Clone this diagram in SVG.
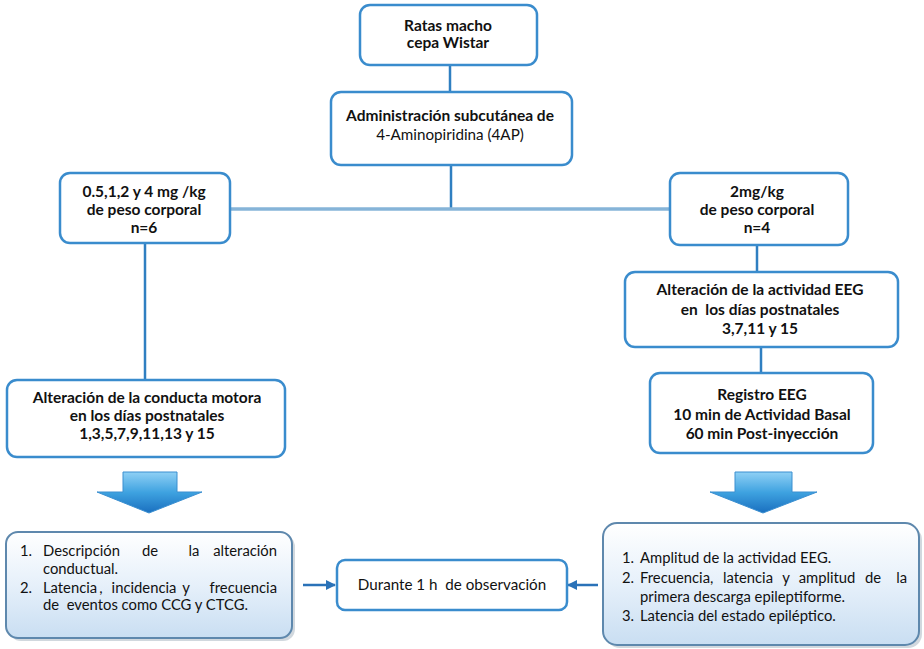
<svg xmlns="http://www.w3.org/2000/svg" width="924" height="649" viewBox="0 0 924 649">
<defs>
<linearGradient id="fillBottom" x1="0" y1="0" x2="0" y2="1">
<stop offset="0" stop-color="#ffffff"/>
<stop offset="0.5" stop-color="#e6f0fa"/>
<stop offset="1" stop-color="#c9def2"/>
</linearGradient>
<linearGradient id="arrowGrad" x1="0" y1="0" x2="0" y2="1">
<stop offset="0" stop-color="#8fd0f5"/>
<stop offset="0.5" stop-color="#3ea2e0"/>
<stop offset="1" stop-color="#1a6fbf"/>
</linearGradient>
<marker id="ah" viewBox="0 0 10 10" refX="9" refY="5" markerWidth="4" markerHeight="4" orient="auto">
<path d="M0,0 L10,5 L0,10 z" fill="#2a72b8"/>
</marker>
</defs>
<style>
.box{fill:#ffffff;stroke:#3a8ccd;stroke-width:2.5}
.bbox{fill:url(#fillBottom);stroke:#5e88ad;stroke-width:2}
.shadow{fill:#9aa8b5;opacity:0.45}
.b{font-family:Lato,"Liberation Sans",sans-serif;font-weight:bold;font-size:15.5px;fill:#111111;text-anchor:middle}
.r{font-family:Lato,"Liberation Sans",sans-serif;font-size:15.2px;fill:#111111;text-anchor:middle}
.t{font-family:Lato,"Liberation Sans",sans-serif;font-size:14.8px;fill:#111111}
.c{text-anchor:middle}
.e{text-anchor:end}
.line{stroke:#2f7fc1;stroke-width:2.5;fill:none}
.hline{stroke:#86b4d8;stroke-width:3.5;fill:none}
.arr{stroke:#2a72b8;stroke-width:2.5;fill:none;marker-end:url(#ah)}
.block{fill:url(#arrowGrad);stroke:#3b8fd0;stroke-width:1}
</style>
<rect width="924" height="649" fill="#ffffff"/>
<g id="connectors">
<line class="line" x1="450" y1="65" x2="450" y2="92"/>
<line class="line" x1="451" y1="165" x2="451" y2="209"/>
<line class="hline" x1="230" y1="209" x2="670" y2="209"/>
<line class="line" x1="145" y1="243" x2="145" y2="380"/>
<line class="line" x1="757" y1="245" x2="757" y2="272"/>
<line class="line" x1="761" y1="347" x2="761" y2="373"/>
<line class="arr" x1="303" y1="585" x2="335" y2="585"/>
<line class="arr" x1="598" y1="585" x2="568" y2="585"/>
<path class="block" d="M123,472 L177,472 L177,492 L202,492 L149,513 L97,492 L123,492 Z"/>
<path class="block" d="M735,472 L792,472 L792,492 L817,492 L763,513 L710,492 L735,492 Z"/>
</g>
<g id="n1">
<rect class="box" x="360" y="5" width="177" height="60" rx="10"/>
<text class="b" x="448" y="31">Ratas macho</text>
<text class="b" x="448" y="48">cepa Wistar</text>
</g>
<g id="n2">
<rect class="box" x="331" y="92" width="241" height="73" rx="10"/>
<text class="b" x="450" y="121">Administración subcutánea de</text>
<text class="r" x="450" y="140">4-Aminopiridina (4AP)</text>
</g>
<g id="n3">
<rect class="box" x="60" y="173" width="170" height="70" rx="10"/>
<text class="b" x="144" y="197">0.5,1,2 y 4 mg /kg</text>
<text class="b" x="144" y="215">de peso corporal</text>
<text class="b" x="144" y="233">n=6</text>
</g>
<g id="n4">
<rect class="box" x="670" y="173" width="178" height="72" rx="10"/>
<text class="b" x="757" y="197">2mg/kg</text>
<text class="b" x="757" y="215">de peso corporal</text>
<text class="b" x="757" y="233">n=4</text>
</g>
<g id="n5">
<rect class="box" x="7" y="380" width="278" height="77" rx="10"/>
<text class="b" x="147" y="403">Alteración de la conducta motora</text>
<text class="b" x="147" y="421">en los días postnatales</text>
<text class="b" x="147" y="439">1,3,5,7,9,11,13 y 15</text>
</g>
<g id="n6">
<rect class="box" x="625" y="272" width="273" height="75" rx="10"/>
<text class="b" x="760" y="295">Alteración de la actividad EEG</text>
<text class="b" x="760" y="315" xml:space="preserve">en  los días postnatales</text>
<text class="b" x="760" y="334">3,7,11 y 15</text>
</g>
<g id="n7">
<rect class="box" x="650" y="373" width="223" height="80" rx="10"/>
<text class="b" x="762" y="400">Registro EEG</text>
<text class="b" x="762" y="420">10 min de Actividad Basal</text>
<text class="b" x="762" y="439">60 min Post-inyección</text>
</g>
<g id="n8">
<rect class="shadow" x="9" y="535" width="286" height="106" rx="12"/>
<rect class="bbox" x="6" y="532" width="286" height="106" rx="12"/>
<text class="t" x="20" y="556">1.</text>
<text class="t" x="43" y="556">Descripción</text>
<text class="t c" x="150" y="556">de</text>
<text class="t c" x="194" y="556">la</text>
<text class="t e" x="277" y="556">alteración</text>
<text class="t" x="43" y="574">conductual.</text>
<text class="t" x="20" y="593">2.</text>
<text class="t" x="43" y="593">Latencia</text>
<text class="t c" x="101" y="593">,</text>
<text class="t c" x="144" y="593">incidencia</text>
<text class="t c" x="186" y="593">y</text>
<text class="t e" x="277" y="593">frecuencia</text>
<text class="t" x="43" y="610" xml:space="preserve">de  eventos como CCG y CTCG.</text>
</g>
<g id="n9">
<rect class="box" x="337" y="560" width="230" height="50" rx="8"/>
<text class="r" x="452" y="590" xml:space="preserve">Durante 1 h  de observación</text>
</g>
<g id="n10">
<rect class="shadow" x="606" y="526" width="316" height="122" rx="14"/>
<rect class="bbox" x="603" y="523" width="316" height="122" rx="14"/>
<text class="t" x="622" y="563">1.</text>
<text class="t" x="640" y="563">Amplitud de la actividad EEG.</text>
<text class="t" x="622" y="583">2.</text>
<text class="t" x="640" y="583">Frecuencia,</text>
<text class="t c" x="748" y="583">latencia</text>
<text class="t c" x="786" y="583">y</text>
<text class="t c" x="827" y="583">amplitud</text>
<text class="t c" x="873" y="583">de</text>
<text class="t e" x="907" y="583">la</text>
<text class="t" x="640" y="602">primera descarga epileptiforme.</text>
<text class="t" x="622" y="621">3.</text>
<text class="t" x="640" y="621">Latencia del estado epiléptico.</text>
</g>
</svg>
